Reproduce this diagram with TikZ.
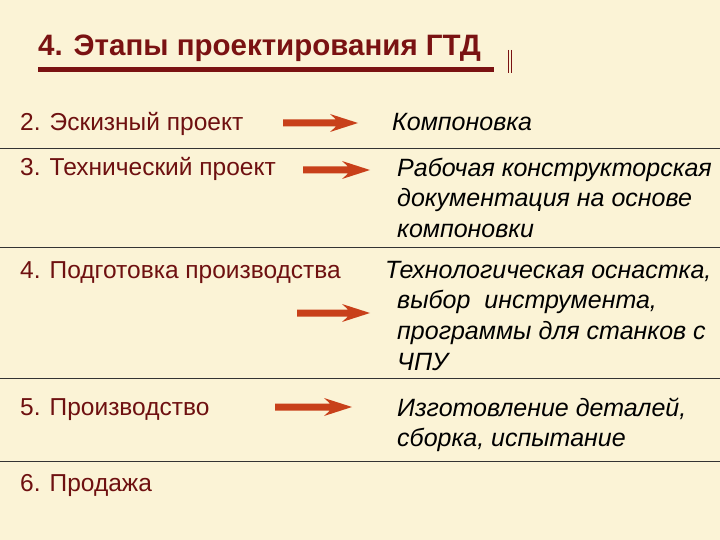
\documentclass[tikz,border=0pt]{standalone}
\usepackage{fontspec}
\setmainfont{Liberation Sans}
\definecolor{bg}{HTML}{FBF3D6}
\definecolor{dred}{HTML}{6E1010}
\definecolor{tred}{HTML}{7A1212}
\definecolor{arr}{HTML}{C8401A}
\tikzset{
 lt/.style={anchor=base west,text=dred,font=\fontsize{24.5}{29}\selectfont,inner sep=0pt},
 rt/.style={anchor=base west,text=black,font=\fontsize{25}{30.5}\selectfont\itshape,inner sep=0pt},
 sep/.style={draw=black!80,line width=0.8pt},
 arrowbox/.style={fill=arr,draw=none}
}
\newcommand{\myarrow}[3]{% x1,x2,y
 \fill[arrowbox] (#1,#3-3.5) -- (#2-22,#3-3.5) -- (#2-28,#3-9) -- (#2,#3) -- (#2-28,#3+9) -- (#2-22,#3+3.5) -- (#1,#3+3.5) -- cycle;}
\begin{document}
\begin{tikzpicture}[x=1pt,y=-1pt]
\fill[bg] (0,0) rectangle (720,540);
\useasboundingbox (0,0) rectangle (720,540);
\node[anchor=base west,text=tred,font=\fontsize{29.5}{34}\selectfont\bfseries,inner sep=0pt] (title) at (38,56) {4. Этапы проектирования ГТД};
\fill[tred] (38,67) rectangle (494,72);
\draw[tred,line width=0.8pt] (508,50) -- (508,73) (511,50) -- (511,73);
\draw[sep] (0,148) -- (720,148);
\draw[sep] (0,247) -- (720,247);
\draw[sep] (0,378) -- (720,378);
\draw[sep] (0,461) -- (720,461);
\node[lt] (l2) at (20,131) {2. Эскизный проект};
\node[lt] (l3) at (20,176) {3. Технический проект};
\node[lt] (l4) at (20,278) {4. Подготовка производства};
\node[lt] (l5) at (20,415) {5. Производство};
\node[lt] (l6) at (20,491) {6. Продажа};
\node[rt] (r2) at (392,131) {Компоновка};
\node[rt] (r3a) at (397,177) {Рабочая конструкторская};
\node[rt] (r3b) at (397,207) {документация на основе};
\node[rt] (r3c) at (397,237) {компоновки};
\node[rt] (r4a) at (385,278) {Технологическая оснастка,};
\node[rt] (r4b) at (397,308) {выбор\ \ инструмента,};
\node[rt] (r4c) at (397,339) {программы для станков с};
\node[rt] (r4d) at (397,370) {ЧПУ};
\node[rt] (r5a) at (397,416) {Изготовление деталей,};
\node[rt] (r5b) at (397,446) {сборка, испытание};
\myarrow{283}{358}{123}
\myarrow{303}{370}{170}
\myarrow{297}{370}{313}
\myarrow{275}{352}{407}
\end{tikzpicture}
\end{document}
